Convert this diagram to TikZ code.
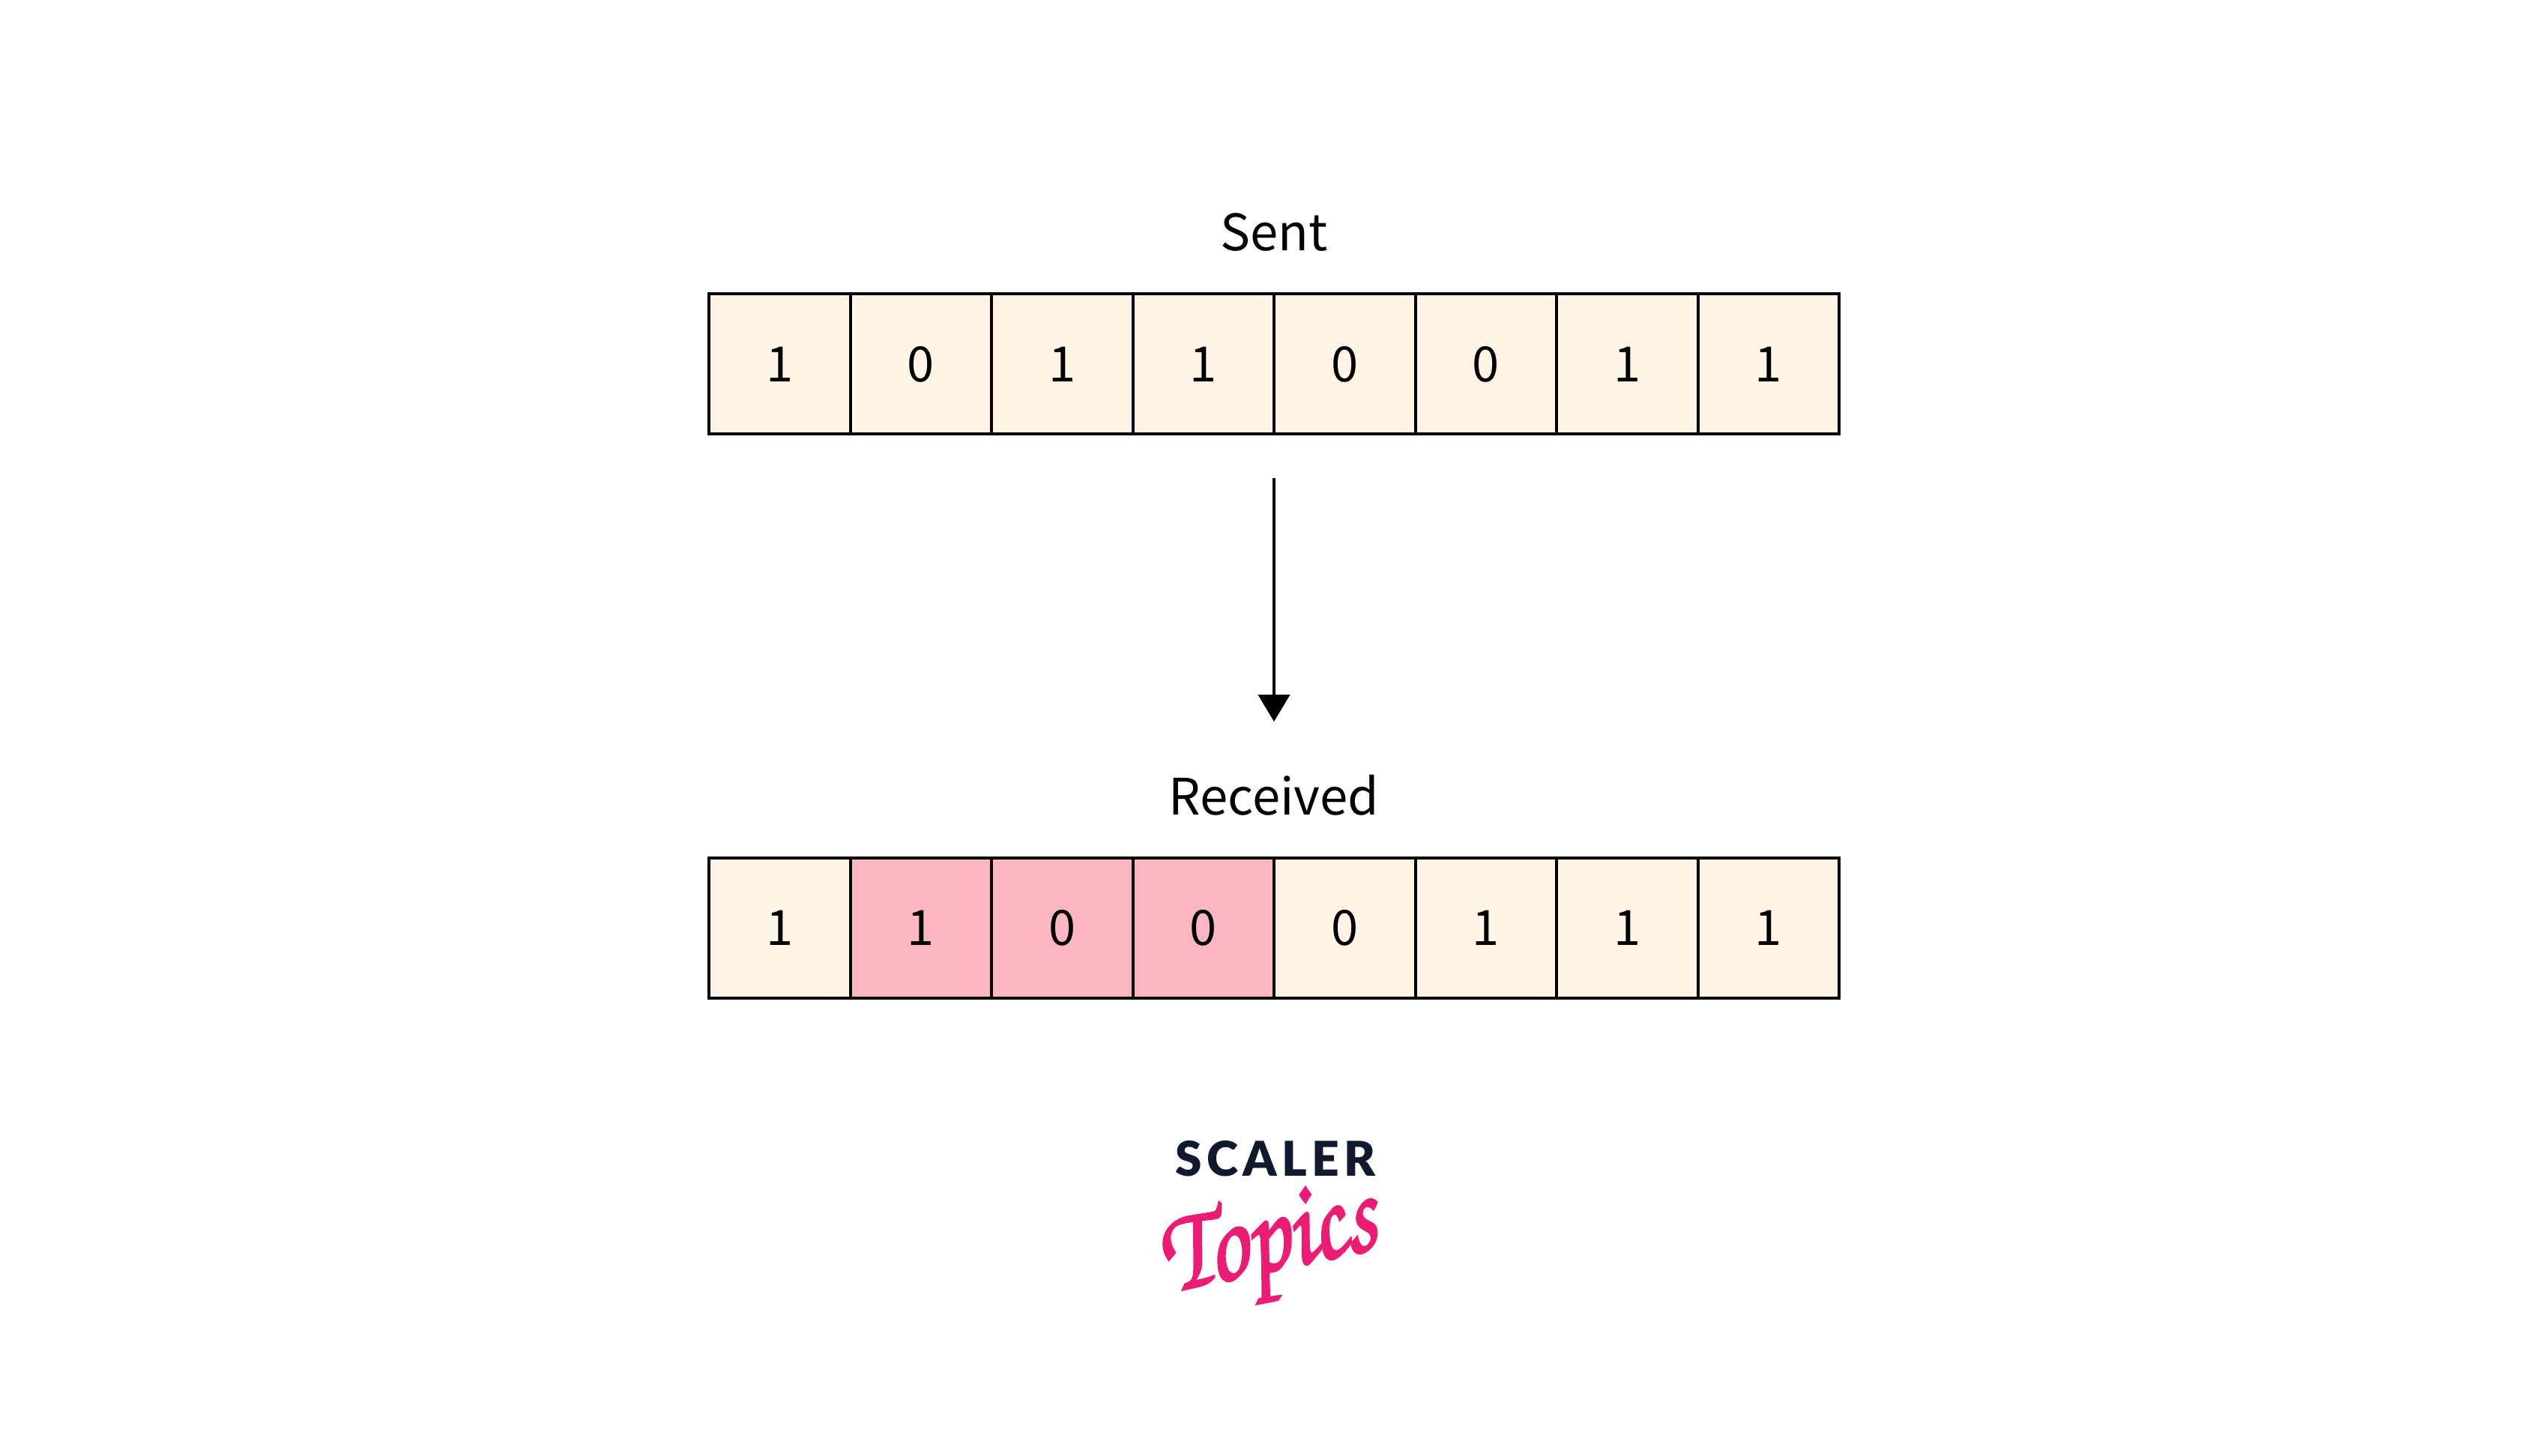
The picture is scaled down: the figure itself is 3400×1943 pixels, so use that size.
\documentclass[tikz,border=0pt]{standalone}
\usepackage{fontspec}
\setmainfont{Noto Sans CJK SC}
\newfontfamily\logofont[LetterSpace=10]{Lato Black}
\newfontfamily\scriptlogo[FakeBold=2]{TeX Gyre Chorus}
\usepackage{xcolor}
\usepackage{tikz}
\usetikzlibrary{arrows.meta}

\definecolor{cream}{HTML}{FFF4E6}
\definecolor{flipped}{HTML}{FCB6C2}
\definecolor{navy}{HTML}{0F1A2E}
\definecolor{logopink}{HTML}{EC1C74}

\tikzset{
  bitcell/.style={draw=black, line width=4, fill=cream, minimum width=188.5, minimum height=187,
    inner sep=0, text height=47, text depth=0, font=\fontsize{65}{65}\selectfont},
  badcell/.style={bitcell, fill=flipped},
  rowlabel/.style={anchor=base, font=\fontsize{67}{67}\selectfont}
}

\begin{document}
\begin{tikzpicture}[x=1pt, y=1pt]
\useasboundingbox (0,0) rectangle (3400,-1943);

\node[rowlabel] (sentlabel) at (1700,-334) {Sent};
\foreach \i/\b in {1/1,2/0,3/1,4/1,5/0,6/0,7/1,8/1}
  \node[bitcell] (sent\i) at ({851.75+188.5*\i},-485.5) {\b};

\coordinate (arrowtop) at (1700,-638);
\coordinate (arrowtip) at (1700,-963);
\draw[-{Stealth[length=36, width=42, inset=0]}, line width=4] (arrowtop)--(arrowtip);

\node[rowlabel] (recvlabel) at (1700,-1087) {Received};
\foreach \i/\b/\s in {1/1/bitcell,2/1/badcell,3/0/badcell,4/0/badcell,5/0/bitcell,6/1/bitcell,7/1/bitcell,8/1/bitcell}
  \node[\s] (recv\i) at ({851.75+188.5*\i},-1238) {\b};

\node[anchor=base, text=navy, font=\logofont\fontsize{64}{64}\selectfont] (scaler) at (1702,-1569) {SCALER};
\node[anchor=base, rotate=12, transform shape, xscale=0.82, text=logopink, font=\scriptlogo\fontsize{160}{160}\selectfont] (topics) at (1700,-1695) {Topics};

\end{tikzpicture}
\end{document}
